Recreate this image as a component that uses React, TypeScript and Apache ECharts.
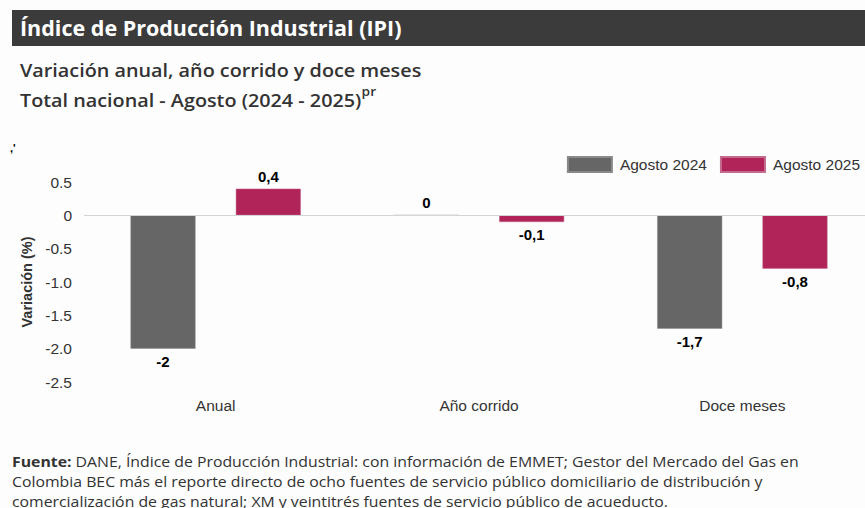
import React, { useEffect, useRef } from "react";
import * as echarts from "echarts";

const categories = ["Anual", "Año corrido", "Doce meses"];
const seriesNames = ["Agosto 2024", "Agosto 2025"];
const values2024 = [-2, 0, -1.7];
const values2025 = [0.4, -0.1, -0.8];
const yTicks = { min: -2.5, max: 0.5, interval: 0.5 };

const titleText = "Índice de Producción Industrial (IPI)";
const subtitle1 = "Variación anual, año corrido y doce meses";
const subtitle2 = "Total nacional - Agosto (2024 - 2025)";
const footerLines = [
  "DANE, Índice de Producción Industrial: con información de EMMET; Gestor del Mercado del Gas en",
  "Colombia BEC más el reporte directo de ocho fuentes de servicio público domiciliario de distribución y",
  "comercialización de gas natural; XM y veintitrés fuentes de servicio público de acueducto.",
];

const GRAY = "#666666";
const RED = "#b0245a";
const SANS = "'Liberation Sans', Arial, Helvetica, sans-serif";
const OPEN = "'Open Sans', 'Noto Sans', sans-serif";

const fmt = (v: number) => String(v).replace(".", ",");

function labelFor(v: number) {
  return {
    show: true,
    position: v >= 0 ? "top" : "bottom",
    distance: 5,
  };
}

export default function App() {
  const ref = useRef<HTMLDivElement>(null);
  useEffect(() => {
    if (!ref.current) return;
    const chart = echarts.init(ref.current, null, { renderer: "svg" });
    const mkData = (arr: number[]) =>
      arr.map((v) => ({ value: v, label: labelFor(v) }));
    const barLabel = {
      show: true,
      fontFamily: SANS,
      fontWeight: "bold",
      fontSize: 15,
      color: "#000",
      formatter: (p: any) => fmt(p.value),
    };
    chart.setOption({
      animation: false,
      backgroundColor: "#fdfdfd",
      textStyle: { fontFamily: SANS },
      legend: {
        data: seriesNames,
        top: 151,
        right: 15,
        icon: "rect",
        itemWidth: 44,
        itemHeight: 15,
        itemGap: 13,
        textStyle: { fontSize: 15.5, color: "#333", fontFamily: SANS, padding: [0, 0, 0, 3] },
      },
      grid: { left: 84, width: 790, top: 182, bottom: 126, containLabel: false },
      xAxis: {
        type: "category",
        data: categories,
        axisLine: { show: false },
        axisTick: { show: false },
        axisLabel: { fontSize: 15.5, color: "#333", margin: 15, fontFamily: SANS },
      },
      yAxis: {
        type: "value",
        min: yTicks.min,
        max: yTicks.max,
        interval: yTicks.interval,
        axisLine: { show: false },
        axisTick: { show: false },
        splitLine: { show: false },
        axisLabel: {
          fontSize: 15.5,
          color: "#333",
          margin: 12,
          fontFamily: SANS,
          formatter: (v: number) => (v === 0 ? "0" : v.toFixed(1)),
        },
        name: "Variación (%)",
        nameLocation: "middle",
        nameGap: 46,
        nameTextStyle: { fontSize: 14.5, fontWeight: "bold", color: "#333", fontFamily: SANS },
      },
      series: [
        {
          name: seriesNames[0],
          type: "bar",
          data: mkData(values2024),
          barWidth: 65,
          barGap: "62%",
          itemStyle: { color: GRAY, borderColor: "#8a8a8a", borderWidth: 0.5 },
          label: barLabel,
          markLine: {
            silent: true,
            symbol: ["none", "none"],
            label: { show: false },
            lineStyle: { color: "#d4d4d4", type: "solid", width: 1 },
            data: [{ yAxis: 0 }],
          },
        },
        {
          name: seriesNames[1],
          type: "bar",
          data: mkData(values2025),
          barWidth: 65,
          barGap: "62%",
          itemStyle: { color: RED, borderColor: "#c46a8c", borderWidth: 0.5 },
          label: barLabel,
        },
      ],
      graphic: [
        {
          type: "rect",
          shape: { x: 12, y: 10, width: 870, height: 36 },
          style: { fill: "#3b3b3b" },
        },
        {
          type: "text",
          x: 20,
          y: 28,
          scaleX: 1.05,
          style: {
            text: titleText,
            fill: "#ffffff",
            font: `bold 20.5px ${OPEN}`,
            verticalAlign: "middle",
          },
        },
        {
          type: "text",
          x: 20,
          y: 70,
          scaleX: 1.1,
          style: {
            text: subtitle1,
            fill: "#333333",
            font: `600 18px ${OPEN}`,
            verticalAlign: "middle",
          },
        },
        {
          type: "text",
          x: 20,
          y: 97,
          scaleX: 1.1,
          style: {
            text: `{a|${subtitle2}}{s|pr}`,
            fill: "#333333",
            verticalAlign: "middle",
            rich: {
              a: { fontFamily: OPEN, fontWeight: 600, fontSize: 18, lineHeight: 24, verticalAlign: "bottom", fill: "#333" },
              s: { fontFamily: OPEN, fontWeight: 600, fontSize: 12.5, lineHeight: 24, verticalAlign: "top", fill: "#333" },
            },
          },
        },
        {
          type: "text",
          x: 10,
          y: 142,
          style: { text: ",'", fill: "#000", font: `bold 11px ${SANS}` },
        },
        {
          type: "text",
          x: 12,
          y: 452,
          scaleX: 1.054,
          style: {
            text:
              `{b|Fuente:}{n| ${footerLines[0]}}\n` +
              `{n|${footerLines[1]}}\n` +
              `{n|${footerLines[2]}}`,
            rich: {
              b: { fontFamily: OPEN, fontWeight: "bold", fontSize: 15, lineHeight: 20, fill: "#333" },
              n: { fontFamily: OPEN, fontSize: 15, lineHeight: 20, fill: "#333" },
            },
          },
        },
      ],
    });
    return () => chart.dispose();
  }, []);
  return (
    <div
      style={{ position: "fixed", left: 0, top: 0, width: 865, height: 508, overflow: "hidden" }}
    >
      <div ref={ref} style={{ width: 880, height: 508 }} />
    </div>
  );
}
